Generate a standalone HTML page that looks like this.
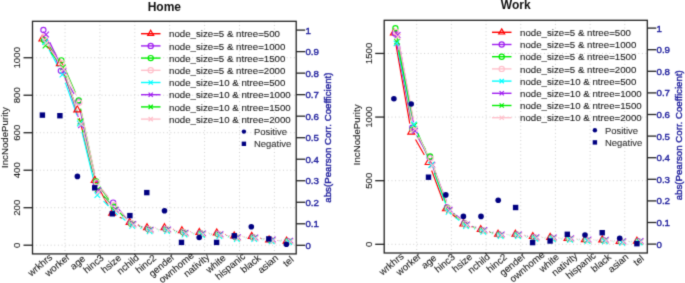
<!DOCTYPE html>
<html><head><meta charset="utf-8"><title>Home / Work</title>
<style>html,body{margin:0;padding:0;background:#fff;width:685px;height:283px;overflow:hidden}svg{display:block}</style>
</head><body>
<svg width="685" height="283" viewBox="0 0 685 283" font-family="Liberation Sans, sans-serif">
<style>.t{font-size:9.7px;fill:#1a1a1a;stroke:#1a1a1a;stroke-width:0.1px} .b{font-size:9.7px;fill:#22229e;stroke:#22229e;stroke-width:0.4px}</style>
<defs><filter id="bl" x="0" y="0" width="685" height="283" filterUnits="userSpaceOnUse" color-interpolation-filters="sRGB"><feConvolveMatrix order="3" kernelMatrix="0.03667 0.19150 0.03667 0.19150 1.00000 0.19150 0.03667 0.19150 0.03667" divisor="1.91266" edgeMode="duplicate" preserveAlpha="true"/></filter></defs>
<rect width="685" height="283" fill="#fff"/>
<g filter="url(#bl)">
<rect width="685" height="283" fill="#fff"/>
<line x1="65.0" y1="21.3" x2="65.0" y2="253.9" stroke="#cfcfcf" stroke-width="1" stroke-dasharray="1 2.63"/>
<line x1="99.9" y1="21.3" x2="99.9" y2="253.9" stroke="#cfcfcf" stroke-width="1" stroke-dasharray="1 2.63"/>
<line x1="134.8" y1="21.3" x2="134.8" y2="253.9" stroke="#cfcfcf" stroke-width="1" stroke-dasharray="1 2.63"/>
<line x1="169.7" y1="21.3" x2="169.7" y2="253.9" stroke="#cfcfcf" stroke-width="1" stroke-dasharray="1 2.63"/>
<line x1="204.6" y1="21.3" x2="204.6" y2="253.9" stroke="#cfcfcf" stroke-width="1" stroke-dasharray="1 2.63"/>
<line x1="239.5" y1="21.3" x2="239.5" y2="253.9" stroke="#cfcfcf" stroke-width="1" stroke-dasharray="1 2.63"/>
<line x1="274.4" y1="21.3" x2="274.4" y2="253.9" stroke="#cfcfcf" stroke-width="1" stroke-dasharray="1 2.63"/>
<line x1="32.5" y1="245.20" x2="296.2" y2="245.20" stroke="#cfcfcf" stroke-width="1" stroke-dasharray="1 2.63"/>
<line x1="32.5" y1="207.71" x2="296.2" y2="207.71" stroke="#cfcfcf" stroke-width="1" stroke-dasharray="1 2.63"/>
<line x1="32.5" y1="170.22" x2="296.2" y2="170.22" stroke="#cfcfcf" stroke-width="1" stroke-dasharray="1 2.63"/>
<line x1="32.5" y1="132.72" x2="296.2" y2="132.72" stroke="#cfcfcf" stroke-width="1" stroke-dasharray="1 2.63"/>
<line x1="32.5" y1="95.23" x2="296.2" y2="95.23" stroke="#cfcfcf" stroke-width="1" stroke-dasharray="1 2.63"/>
<line x1="32.5" y1="57.74" x2="296.2" y2="57.74" stroke="#cfcfcf" stroke-width="1" stroke-dasharray="1 2.63"/>
<path d="M47.35,46.02L54.89,56.71M62.88,71.78L74.24,101.81M79.35,118.20L92.65,171.99M98.76,187.93L108.12,205.55M119.77,217.15L121.99,218.32M137.81,224.89L138.83,225.21M155.64,227.77L155.88,227.77M172.96,229.22L173.44,229.31M190.48,231.59L190.80,231.62M207.96,232.73L208.20,232.74M225.28,234.47L225.76,234.56M242.84,236.20L243.08,236.20M260.11,238.11L260.69,238.23M277.70,240.50L277.98,240.52" stroke="#ff0000" stroke-width="1.15" fill="none"/>
<path d="M46.78,37.91L57.46,62.95M65.10,78.33L74.02,93.95M80.07,109.83L93.93,174.93M101.48,189.72L107.40,196.26M118.74,209.19L125.02,216.54M138.76,225.80L139.88,226.17M156.64,228.89L156.88,228.89M173.94,230.44L174.46,230.53M191.50,232.63L191.78,232.65M208.95,233.57L209.21,233.58M226.28,235.41L226.76,235.49M243.84,237.04L244.08,237.05M261.16,238.60L261.64,238.68M278.70,240.69L278.98,240.71" stroke="#a020f0" stroke-width="1.15" fill="none"/>
<path d="M49.51,46.63L55.73,53.85M64.78,68.25L75.34,92.41M80.59,108.70L94.41,173.06M101.10,188.54L108.78,199.69M119.87,212.72L124.89,217.51M139.28,226.09L140.36,226.44M157.14,229.08L157.38,229.08M174.44,230.62L174.96,230.72M192.00,232.82L192.28,232.84M209.45,233.76L209.71,233.77M226.79,235.51L227.25,235.58M244.34,237.14L244.58,237.14M261.67,238.70L262.13,238.77M279.20,240.69L279.48,240.71" stroke="#00ee00" stroke-width="1.15" fill="none"/>
<path d="M49.16,43.91L57.08,55.83M65.30,70.86L75.82,94.86M81.12,111.13L94.88,174.00M101.99,189.20L108.89,198.10M120.08,211.13L125.68,217.03M139.76,225.99L140.88,226.36M157.64,228.99L157.88,228.98M174.94,230.44L175.46,230.53M192.50,232.72L192.78,232.74M209.96,233.67L210.20,233.68M227.28,235.41L227.76,235.49M244.84,237.14L245.08,237.14M262.17,238.70L262.63,238.77M279.70,240.69L279.98,240.71" stroke="#ffc0cb" stroke-width="1.15" fill="none"/>
<path d="M49.07,49.72L58.37,67.00M65.33,82.67L76.99,115.40M81.91,131.86L95.29,186.76M103.50,201.09L108.58,206.00M121.49,217.34L125.47,220.50M140.41,228.41L141.43,228.73M158.24,231.20L158.48,231.20M175.52,232.74L176.08,232.84M193.12,234.75L193.36,234.76M210.55,235.50L210.81,235.52M227.88,237.43L228.36,237.52M245.44,238.98L245.68,238.98M262.81,240.08L263.19,240.13M280.31,241.69L280.57,241.70" stroke="#00ffff" stroke-width="1.15" fill="none"/>
<path d="M49.79,42.23L59.85,63.43M66.18,79.38L78.34,117.00M83.21,133.49L96.19,181.93M104.15,196.65L110.13,203.32M122.52,215.17L126.64,218.54M141.48,226.62L142.56,226.96M159.34,229.51L159.58,229.51M176.62,231.05L177.18,231.16M194.22,233.07L194.46,233.08M211.65,233.81L211.91,233.83M228.98,235.75L229.46,235.83M246.54,237.38L246.78,237.38M263.92,238.49L264.28,238.53M281.40,240.09L281.68,240.11" stroke="#a020f0" stroke-width="1.15" fill="none"/>
<path d="M50.85,52.29L57.59,60.76M65.58,75.67L77.74,113.29M82.52,129.81L95.68,181.01M103.43,195.85L109.65,203.07M121.85,215.11L126.11,218.68M140.86,226.92L141.98,227.30M158.74,229.92L158.98,229.92M176.02,231.46L176.58,231.57M193.61,233.57L193.87,233.58M211.05,234.41L211.31,234.43M228.39,236.26L228.85,236.33M245.94,237.79L246.18,237.80M263.31,238.99L263.69,239.04M280.81,240.60L281.07,240.61" stroke="#00ee00" stroke-width="1.15" fill="none"/>
<path d="M51.16,50.31L59.08,62.22M66.45,77.58L78.67,115.93M83.42,132.46L96.58,183.66M104.55,198.31L110.33,204.59M122.86,216.32L126.90,219.58M141.78,227.62L142.86,227.96M159.64,230.51L159.88,230.51M176.92,232.05L177.48,232.16M194.51,234.16L194.77,234.17M211.95,235.00L212.21,235.02M229.29,236.85L229.75,236.92M246.84,238.38L247.08,238.38M264.21,239.58L264.59,239.63M281.71,241.19L281.97,241.20" stroke="#ffc0cb" stroke-width="1.15" fill="none"/>
<polygon points="42.40,34.95 45.90,41.02 38.90,41.02" fill="none" stroke="#ff0000" stroke-width="1.1"/>
<polygon points="59.84,59.70 63.34,65.76 56.34,65.76" fill="none" stroke="#ff0000" stroke-width="1.1"/>
<polygon points="77.28,105.81 80.78,111.88 73.78,111.88" fill="none" stroke="#ff0000" stroke-width="1.1"/>
<polygon points="94.72,176.30 98.22,182.36 91.22,182.36" fill="none" stroke="#ff0000" stroke-width="1.1"/>
<polygon points="112.16,209.10 115.66,215.17 108.66,215.17" fill="none" stroke="#ff0000" stroke-width="1.1"/>
<polygon points="129.60,218.29 133.10,224.35 126.10,224.35" fill="none" stroke="#ff0000" stroke-width="1.1"/>
<polygon points="147.04,223.72 150.54,229.79 143.54,229.79" fill="none" stroke="#ff0000" stroke-width="1.1"/>
<polygon points="164.48,223.72 167.98,229.79 160.98,229.79" fill="none" stroke="#ff0000" stroke-width="1.1"/>
<polygon points="181.92,226.72 185.42,232.79 178.42,232.79" fill="none" stroke="#ff0000" stroke-width="1.1"/>
<polygon points="199.36,228.41 202.86,234.47 195.86,234.47" fill="none" stroke="#ff0000" stroke-width="1.1"/>
<polygon points="216.80,228.97 220.30,235.04 213.30,235.04" fill="none" stroke="#ff0000" stroke-width="1.1"/>
<polygon points="234.24,231.97 237.74,238.04 230.74,238.04" fill="none" stroke="#ff0000" stroke-width="1.1"/>
<polygon points="251.68,232.35 255.18,238.41 248.18,238.41" fill="none" stroke="#ff0000" stroke-width="1.1"/>
<polygon points="269.12,235.91 272.62,241.97 265.62,241.97" fill="none" stroke="#ff0000" stroke-width="1.1"/>
<polygon points="286.56,237.03 290.06,243.10 283.06,243.10" fill="none" stroke="#ff0000" stroke-width="1.1"/>
<circle cx="43.40" cy="30.00" r="2.60" fill="none" stroke="#a020f0" stroke-width="1.1"/>
<circle cx="60.84" cy="70.86" r="2.60" fill="none" stroke="#a020f0" stroke-width="1.1"/>
<circle cx="78.28" cy="101.42" r="2.60" fill="none" stroke="#a020f0" stroke-width="1.1"/>
<circle cx="95.72" cy="183.34" r="2.60" fill="none" stroke="#a020f0" stroke-width="1.1"/>
<circle cx="113.16" cy="202.65" r="2.60" fill="none" stroke="#a020f0" stroke-width="1.1"/>
<circle cx="130.60" cy="223.08" r="2.60" fill="none" stroke="#a020f0" stroke-width="1.1"/>
<circle cx="148.04" cy="228.89" r="2.60" fill="none" stroke="#a020f0" stroke-width="1.1"/>
<circle cx="165.48" cy="228.89" r="2.60" fill="none" stroke="#a020f0" stroke-width="1.1"/>
<circle cx="182.92" cy="232.08" r="2.60" fill="none" stroke="#a020f0" stroke-width="1.1"/>
<circle cx="200.36" cy="233.20" r="2.60" fill="none" stroke="#a020f0" stroke-width="1.1"/>
<circle cx="217.80" cy="233.95" r="2.60" fill="none" stroke="#a020f0" stroke-width="1.1"/>
<circle cx="235.24" cy="236.95" r="2.60" fill="none" stroke="#a020f0" stroke-width="1.1"/>
<circle cx="252.68" cy="237.14" r="2.60" fill="none" stroke="#a020f0" stroke-width="1.1"/>
<circle cx="270.12" cy="240.14" r="2.60" fill="none" stroke="#a020f0" stroke-width="1.1"/>
<circle cx="287.56" cy="241.26" r="2.60" fill="none" stroke="#a020f0" stroke-width="1.1"/>
<circle cx="43.90" cy="40.12" r="2.60" fill="none" stroke="#00ee00" stroke-width="1.1"/>
<circle cx="61.34" cy="60.36" r="2.60" fill="none" stroke="#00ee00" stroke-width="1.1"/>
<circle cx="78.78" cy="100.29" r="2.60" fill="none" stroke="#00ee00" stroke-width="1.1"/>
<circle cx="96.22" cy="181.46" r="2.60" fill="none" stroke="#00ee00" stroke-width="1.1"/>
<circle cx="113.66" cy="206.77" r="2.60" fill="none" stroke="#00ee00" stroke-width="1.1"/>
<circle cx="131.10" cy="223.45" r="2.60" fill="none" stroke="#00ee00" stroke-width="1.1"/>
<circle cx="148.54" cy="229.08" r="2.60" fill="none" stroke="#00ee00" stroke-width="1.1"/>
<circle cx="165.98" cy="229.08" r="2.60" fill="none" stroke="#00ee00" stroke-width="1.1"/>
<circle cx="183.42" cy="232.27" r="2.60" fill="none" stroke="#00ee00" stroke-width="1.1"/>
<circle cx="200.86" cy="233.39" r="2.60" fill="none" stroke="#00ee00" stroke-width="1.1"/>
<circle cx="218.30" cy="234.14" r="2.60" fill="none" stroke="#00ee00" stroke-width="1.1"/>
<circle cx="235.74" cy="236.95" r="2.60" fill="none" stroke="#00ee00" stroke-width="1.1"/>
<circle cx="253.18" cy="237.33" r="2.60" fill="none" stroke="#00ee00" stroke-width="1.1"/>
<circle cx="270.62" cy="240.14" r="2.60" fill="none" stroke="#00ee00" stroke-width="1.1"/>
<circle cx="288.06" cy="241.26" r="2.60" fill="none" stroke="#00ee00" stroke-width="1.1"/>
<circle cx="44.40" cy="36.74" r="2.60" fill="none" stroke="#ffc0cb" stroke-width="1.1"/>
<circle cx="61.84" cy="62.99" r="2.60" fill="none" stroke="#ffc0cb" stroke-width="1.1"/>
<circle cx="79.28" cy="102.73" r="2.60" fill="none" stroke="#ffc0cb" stroke-width="1.1"/>
<circle cx="96.72" cy="182.40" r="2.60" fill="none" stroke="#ffc0cb" stroke-width="1.1"/>
<circle cx="114.16" cy="204.90" r="2.60" fill="none" stroke="#ffc0cb" stroke-width="1.1"/>
<circle cx="131.60" cy="223.27" r="2.60" fill="none" stroke="#ffc0cb" stroke-width="1.1"/>
<circle cx="149.04" cy="229.08" r="2.60" fill="none" stroke="#ffc0cb" stroke-width="1.1"/>
<circle cx="166.48" cy="228.89" r="2.60" fill="none" stroke="#ffc0cb" stroke-width="1.1"/>
<circle cx="183.92" cy="232.08" r="2.60" fill="none" stroke="#ffc0cb" stroke-width="1.1"/>
<circle cx="201.36" cy="233.39" r="2.60" fill="none" stroke="#ffc0cb" stroke-width="1.1"/>
<circle cx="218.80" cy="233.95" r="2.60" fill="none" stroke="#ffc0cb" stroke-width="1.1"/>
<circle cx="236.24" cy="236.95" r="2.60" fill="none" stroke="#ffc0cb" stroke-width="1.1"/>
<circle cx="253.68" cy="237.33" r="2.60" fill="none" stroke="#ffc0cb" stroke-width="1.1"/>
<circle cx="271.12" cy="240.14" r="2.60" fill="none" stroke="#ffc0cb" stroke-width="1.1"/>
<circle cx="288.56" cy="241.26" r="2.60" fill="none" stroke="#ffc0cb" stroke-width="1.1"/>
<path d="M42.69,42.75L48.31,48.36M42.69,48.36L48.31,42.75" stroke="#00ee00" stroke-width="1.1" fill="none"/>
<path d="M60.13,64.68L65.75,70.30M60.13,70.30L65.75,64.68" stroke="#00ee00" stroke-width="1.1" fill="none"/>
<path d="M77.57,118.67L83.19,124.28M77.57,124.28L83.19,118.67" stroke="#00ee00" stroke-width="1.1" fill="none"/>
<path d="M95.01,186.53L100.63,192.14M95.01,192.14L100.63,186.53" stroke="#00ee00" stroke-width="1.1" fill="none"/>
<path d="M112.45,206.77L118.07,212.39M112.45,212.39L118.07,206.77" stroke="#00ee00" stroke-width="1.1" fill="none"/>
<path d="M129.89,221.40L135.51,227.01M129.89,227.01L135.51,221.40" stroke="#00ee00" stroke-width="1.1" fill="none"/>
<path d="M147.33,227.21L152.95,232.82M147.33,232.82L152.95,227.21" stroke="#00ee00" stroke-width="1.1" fill="none"/>
<path d="M164.77,227.02L170.39,232.64M164.77,232.64L170.39,227.02" stroke="#00ee00" stroke-width="1.1" fill="none"/>
<path d="M182.21,230.39L187.83,236.01M182.21,236.01L187.83,230.39" stroke="#00ee00" stroke-width="1.1" fill="none"/>
<path d="M199.65,231.14L205.27,236.76M199.65,236.76L205.27,231.14" stroke="#00ee00" stroke-width="1.1" fill="none"/>
<path d="M217.09,232.08L222.71,237.70M217.09,237.70L222.71,232.08" stroke="#00ee00" stroke-width="1.1" fill="none"/>
<path d="M234.53,234.89L240.15,240.51M234.53,240.51L240.15,234.89" stroke="#00ee00" stroke-width="1.1" fill="none"/>
<path d="M251.97,235.08L257.59,240.70M251.97,240.70L257.59,235.08" stroke="#00ee00" stroke-width="1.1" fill="none"/>
<path d="M269.41,237.33L275.03,242.95M269.41,242.95L275.03,237.33" stroke="#00ee00" stroke-width="1.1" fill="none"/>
<path d="M286.85,238.27L292.47,243.88M286.85,243.88L292.47,238.27" stroke="#00ee00" stroke-width="1.1" fill="none"/>
<path d="M43.29,31.65L48.91,37.27M43.29,37.27L48.91,31.65" stroke="#a020f0" stroke-width="1.1" fill="none"/>
<path d="M60.73,68.39L66.35,74.01M60.73,74.01L66.35,68.39" stroke="#a020f0" stroke-width="1.1" fill="none"/>
<path d="M78.17,122.38L83.79,128.00M78.17,128.00L83.79,122.38" stroke="#a020f0" stroke-width="1.1" fill="none"/>
<path d="M95.61,187.43L101.23,193.04M95.61,193.04L101.23,187.43" stroke="#a020f0" stroke-width="1.1" fill="none"/>
<path d="M113.05,206.92L118.67,212.54M113.05,212.54L118.67,206.92" stroke="#a020f0" stroke-width="1.1" fill="none"/>
<path d="M130.49,221.17L136.11,226.79M130.49,226.79L136.11,221.17" stroke="#a020f0" stroke-width="1.1" fill="none"/>
<path d="M147.93,226.80L153.55,232.41M147.93,232.41L153.55,226.80" stroke="#a020f0" stroke-width="1.1" fill="none"/>
<path d="M165.37,226.61L170.99,232.22M165.37,232.22L170.99,226.61" stroke="#a020f0" stroke-width="1.1" fill="none"/>
<path d="M182.81,229.98L188.43,235.60M182.81,235.60L188.43,229.98" stroke="#a020f0" stroke-width="1.1" fill="none"/>
<path d="M200.25,230.54L205.87,236.16M200.25,236.16L205.87,230.54" stroke="#a020f0" stroke-width="1.1" fill="none"/>
<path d="M217.69,231.48L223.31,237.10M217.69,237.10L223.31,231.48" stroke="#a020f0" stroke-width="1.1" fill="none"/>
<path d="M235.13,234.48L240.75,240.10M235.13,240.10L240.75,234.48" stroke="#a020f0" stroke-width="1.1" fill="none"/>
<path d="M252.57,234.67L258.19,240.28M252.57,240.28L258.19,234.67" stroke="#a020f0" stroke-width="1.1" fill="none"/>
<path d="M270.01,236.73L275.63,242.35M270.01,242.35L275.63,236.73" stroke="#a020f0" stroke-width="1.1" fill="none"/>
<path d="M287.45,237.86L293.07,243.47M287.45,243.47L293.07,237.86" stroke="#a020f0" stroke-width="1.1" fill="none"/>
<path d="M42.19,39.34L47.81,44.95M42.19,44.95L47.81,39.34" stroke="#00ffff" stroke-width="1.1" fill="none"/>
<path d="M59.63,71.77L65.25,77.38M59.63,77.38L65.25,71.77" stroke="#00ffff" stroke-width="1.1" fill="none"/>
<path d="M77.07,120.69L82.69,126.31M77.07,126.31L82.69,120.69" stroke="#00ffff" stroke-width="1.1" fill="none"/>
<path d="M94.51,192.30L100.13,197.92M94.51,197.92L100.13,192.30" stroke="#00ffff" stroke-width="1.1" fill="none"/>
<path d="M111.95,209.17L117.57,214.79M111.95,214.79L117.57,209.17" stroke="#00ffff" stroke-width="1.1" fill="none"/>
<path d="M129.39,223.05L135.01,228.66M129.39,228.66L135.01,223.05" stroke="#00ffff" stroke-width="1.1" fill="none"/>
<path d="M146.83,228.48L152.45,234.10M146.83,234.10L152.45,228.48" stroke="#00ffff" stroke-width="1.1" fill="none"/>
<path d="M164.27,228.30L169.89,233.91M164.27,233.91L169.89,228.30" stroke="#00ffff" stroke-width="1.1" fill="none"/>
<path d="M181.71,231.67L187.33,237.29M181.71,237.29L187.33,231.67" stroke="#00ffff" stroke-width="1.1" fill="none"/>
<path d="M199.15,232.23L204.77,237.85M199.15,237.85L204.77,232.23" stroke="#00ffff" stroke-width="1.1" fill="none"/>
<path d="M216.59,233.17L222.21,238.79M216.59,238.79L222.21,233.17" stroke="#00ffff" stroke-width="1.1" fill="none"/>
<path d="M234.03,236.17L239.65,241.78M234.03,241.78L239.65,236.17" stroke="#00ffff" stroke-width="1.1" fill="none"/>
<path d="M251.47,236.17L257.09,241.78M251.47,241.78L257.09,236.17" stroke="#00ffff" stroke-width="1.1" fill="none"/>
<path d="M268.91,238.42L274.53,244.03M268.91,244.03L274.53,238.42" stroke="#00ffff" stroke-width="1.1" fill="none"/>
<path d="M286.35,239.36L291.97,244.97M286.35,244.97L291.97,239.36" stroke="#00ffff" stroke-width="1.1" fill="none"/>
<path d="M43.59,40.34L49.21,45.95M43.59,45.95L49.21,40.34" stroke="#ffc0cb" stroke-width="1.1" fill="none"/>
<path d="M61.03,66.58L66.65,72.20M61.03,72.20L66.65,66.58" stroke="#ffc0cb" stroke-width="1.1" fill="none"/>
<path d="M78.47,121.32L84.09,126.93M78.47,126.93L84.09,121.32" stroke="#ffc0cb" stroke-width="1.1" fill="none"/>
<path d="M95.91,189.18L101.53,194.79M95.91,194.79L101.53,189.18" stroke="#ffc0cb" stroke-width="1.1" fill="none"/>
<path d="M113.35,208.11L118.97,213.73M113.35,213.73L118.97,208.11" stroke="#ffc0cb" stroke-width="1.1" fill="none"/>
<path d="M130.79,222.17L136.41,227.79M130.79,227.79L136.41,222.17" stroke="#ffc0cb" stroke-width="1.1" fill="none"/>
<path d="M148.23,227.80L153.85,233.41M148.23,233.41L153.85,227.80" stroke="#ffc0cb" stroke-width="1.1" fill="none"/>
<path d="M165.67,227.61L171.29,233.22M165.67,233.22L171.29,227.61" stroke="#ffc0cb" stroke-width="1.1" fill="none"/>
<path d="M183.11,230.98L188.73,236.60M183.11,236.60L188.73,230.98" stroke="#ffc0cb" stroke-width="1.1" fill="none"/>
<path d="M200.55,231.73L206.17,237.35M200.55,237.35L206.17,231.73" stroke="#ffc0cb" stroke-width="1.1" fill="none"/>
<path d="M217.99,232.67L223.61,238.29M217.99,238.29L223.61,232.67" stroke="#ffc0cb" stroke-width="1.1" fill="none"/>
<path d="M235.43,235.48L241.05,241.10M235.43,241.10L241.05,235.48" stroke="#ffc0cb" stroke-width="1.1" fill="none"/>
<path d="M252.87,235.67L258.49,241.28M252.87,241.28L258.49,235.67" stroke="#ffc0cb" stroke-width="1.1" fill="none"/>
<path d="M270.31,237.92L275.93,243.53M270.31,243.53L275.93,237.92" stroke="#ffc0cb" stroke-width="1.1" fill="none"/>
<path d="M287.75,238.86L293.37,244.47M287.75,244.47L293.37,238.86" stroke="#ffc0cb" stroke-width="1.1" fill="none"/>
<rect x="39.70" y="112.40" width="5.4" height="5.4" fill="#000080"/>
<rect x="57.20" y="113.00" width="5.4" height="5.4" fill="#000080"/>
<circle cx="77.40" cy="176.40" r="2.8" fill="#000080"/>
<rect x="92.00" y="185.10" width="5.4" height="5.4" fill="#000080"/>
<rect x="109.60" y="211.10" width="5.4" height="5.4" fill="#000080"/>
<rect x="127.20" y="212.90" width="5.4" height="5.4" fill="#000080"/>
<rect x="144.10" y="189.90" width="5.4" height="5.4" fill="#000080"/>
<circle cx="164.50" cy="210.70" r="2.8" fill="#000080"/>
<rect x="178.80" y="239.70" width="5.4" height="5.4" fill="#000080"/>
<circle cx="199.20" cy="237.50" r="2.8" fill="#000080"/>
<rect x="213.90" y="239.70" width="5.4" height="5.4" fill="#000080"/>
<rect x="231.60" y="233.10" width="5.4" height="5.4" fill="#000080"/>
<circle cx="251.30" cy="226.80" r="2.8" fill="#000080"/>
<rect x="266.10" y="236.20" width="5.4" height="5.4" fill="#000080"/>
<circle cx="286.40" cy="244.30" r="2.8" fill="#000080"/>
<rect x="32.5" y="21.3" width="263.70" height="232.60" fill="none" stroke="#222" stroke-width="1.3"/>
<line x1="23.5" y1="245.20" x2="32.5" y2="245.20" stroke="#222" stroke-width="1.3"/>
<text x="20.50" y="245.20" transform="rotate(-90 20.50 245.20)" text-anchor="middle" class="t">0</text>
<line x1="23.5" y1="207.71" x2="32.5" y2="207.71" stroke="#222" stroke-width="1.3"/>
<text x="20.50" y="207.71" transform="rotate(-90 20.50 207.71)" text-anchor="middle" class="t">200</text>
<line x1="23.5" y1="170.22" x2="32.5" y2="170.22" stroke="#222" stroke-width="1.3"/>
<text x="20.50" y="170.22" transform="rotate(-90 20.50 170.22)" text-anchor="middle" class="t">400</text>
<line x1="23.5" y1="132.72" x2="32.5" y2="132.72" stroke="#222" stroke-width="1.3"/>
<text x="20.50" y="132.72" transform="rotate(-90 20.50 132.72)" text-anchor="middle" class="t">600</text>
<line x1="23.5" y1="95.23" x2="32.5" y2="95.23" stroke="#222" stroke-width="1.3"/>
<text x="20.50" y="95.23" transform="rotate(-90 20.50 95.23)" text-anchor="middle" class="t">800</text>
<line x1="23.5" y1="57.74" x2="32.5" y2="57.74" stroke="#222" stroke-width="1.3"/>
<text x="20.50" y="57.74" transform="rotate(-90 20.50 57.74)" text-anchor="middle" class="t">1000</text>
<line x1="296.2" y1="245.30" x2="305.2" y2="245.30" stroke="#222" stroke-width="1.3"/>
<text x="305.40" y="248.80" class="b">0</text>
<line x1="296.2" y1="223.78" x2="305.2" y2="223.78" stroke="#222" stroke-width="1.3"/>
<text x="305.40" y="227.28" class="b">0.1</text>
<line x1="296.2" y1="202.26" x2="305.2" y2="202.26" stroke="#222" stroke-width="1.3"/>
<text x="305.40" y="205.76" class="b">0.2</text>
<line x1="296.2" y1="180.74" x2="305.2" y2="180.74" stroke="#222" stroke-width="1.3"/>
<text x="305.40" y="184.24" class="b">0.3</text>
<line x1="296.2" y1="159.22" x2="305.2" y2="159.22" stroke="#222" stroke-width="1.3"/>
<text x="305.40" y="162.72" class="b">0.4</text>
<line x1="296.2" y1="137.70" x2="305.2" y2="137.70" stroke="#222" stroke-width="1.3"/>
<text x="305.40" y="141.20" class="b">0.5</text>
<line x1="296.2" y1="116.18" x2="305.2" y2="116.18" stroke="#222" stroke-width="1.3"/>
<text x="305.40" y="119.68" class="b">0.6</text>
<line x1="296.2" y1="94.66" x2="305.2" y2="94.66" stroke="#222" stroke-width="1.3"/>
<text x="305.40" y="98.16" class="b">0.7</text>
<line x1="296.2" y1="73.14" x2="305.2" y2="73.14" stroke="#222" stroke-width="1.3"/>
<text x="305.40" y="76.64" class="b">0.8</text>
<line x1="296.2" y1="51.62" x2="305.2" y2="51.62" stroke="#222" stroke-width="1.3"/>
<text x="305.40" y="55.12" class="b">0.9</text>
<line x1="296.2" y1="30.10" x2="305.2" y2="30.10" stroke="#222" stroke-width="1.3"/>
<text x="305.40" y="33.60" class="b">1</text>
<text x="8.00" y="137.60" transform="rotate(-90 8.00 137.60)" text-anchor="middle" class="t">IncNodePurity</text>
<text x="331.00" y="137.60" transform="rotate(-90 331.00 137.60)" text-anchor="middle" class="b">abs(Pearson Corr. Coefficient)</text>
<text x="164.35" y="10.9" text-anchor="middle" font-size="12" font-weight="bold" fill="#111">Home</text>
<text x="52.99" y="258.30" transform="rotate(-40 52.99 258.30)" text-anchor="end" class="t">wrkhrs</text>
<text x="70.51" y="258.23" transform="rotate(-40 70.51 258.23)" text-anchor="end" class="t">worker</text>
<text x="86.01" y="259.86" transform="rotate(-40 86.01 259.86)" text-anchor="end" class="t">age</text>
<text x="104.50" y="258.98" transform="rotate(-40 104.50 258.98)" text-anchor="end" class="t">hinc3</text>
<text x="121.86" y="259.05" transform="rotate(-40 121.86 259.05)" text-anchor="end" class="t">hsize</text>
<text x="139.71" y="258.71" transform="rotate(-40 139.71 258.71)" text-anchor="end" class="t">nchild</text>
<text x="156.82" y="258.98" transform="rotate(-40 156.82 258.98)" text-anchor="end" class="t">hinc2</text>
<text x="175.32" y="258.09" transform="rotate(-40 175.32 258.09)" text-anchor="end" class="t">gender</text>
<text x="194.53" y="256.60" transform="rotate(-40 194.53 256.60)" text-anchor="end" class="t">ownhome</text>
<text x="210.19" y="258.10" transform="rotate(-40 210.19 258.10)" text-anchor="end" class="t">nativity</text>
<text x="226.50" y="259.05" transform="rotate(-40 226.50 259.05)" text-anchor="end" class="t">white</text>
<text x="245.88" y="257.42" transform="rotate(-40 245.88 257.42)" text-anchor="end" class="t">hispanic</text>
<text x="261.38" y="259.05" transform="rotate(-40 261.38 259.05)" text-anchor="end" class="t">black</text>
<text x="278.90" y="258.98" transform="rotate(-40 278.90 258.98)" text-anchor="end" class="t">asian</text>
<text x="294.40" y="260.61" transform="rotate(-40 294.40 260.61)" text-anchor="end" class="t">tel</text>
<line x1="141.00" y1="33.70" x2="160.50" y2="33.70" stroke="#ff0000" stroke-width="1.4"/>
<polygon points="150.70,30.26 153.68,35.42 147.72,35.42" fill="none" stroke="#ff0000" stroke-width="1.2"/>
<text x="169.00" y="37.30" class="t">node_size=5 &amp; ntree=500</text>
<line x1="141.00" y1="45.90" x2="160.50" y2="45.90" stroke="#a020f0" stroke-width="1.4"/>
<circle cx="150.70" cy="45.90" r="2.60" fill="none" stroke="#a020f0" stroke-width="1.2"/>
<text x="169.00" y="49.50" class="t">node_size=5 &amp; ntree=1000</text>
<line x1="141.00" y1="58.10" x2="160.50" y2="58.10" stroke="#00ee00" stroke-width="1.4"/>
<circle cx="150.70" cy="58.10" r="2.60" fill="none" stroke="#00ee00" stroke-width="1.2"/>
<text x="169.00" y="61.70" class="t">node_size=5 &amp; ntree=1500</text>
<line x1="141.00" y1="70.30" x2="160.50" y2="70.30" stroke="#ffc0cb" stroke-width="1.4"/>
<circle cx="150.70" cy="70.30" r="2.60" fill="none" stroke="#ffc0cb" stroke-width="1.2"/>
<text x="169.00" y="73.90" class="t">node_size=5 &amp; ntree=2000</text>
<line x1="141.00" y1="82.50" x2="160.50" y2="82.50" stroke="#00ffff" stroke-width="1.4"/>
<path d="M148.59,80.39L152.81,84.61M148.59,84.61L152.81,80.39" stroke="#00ffff" stroke-width="1.2" fill="none"/>
<text x="169.00" y="86.10" class="t">node_size=10 &amp; ntree=500</text>
<line x1="141.00" y1="94.70" x2="160.50" y2="94.70" stroke="#a020f0" stroke-width="1.4"/>
<path d="M148.59,92.59L152.81,96.81M148.59,96.81L152.81,92.59" stroke="#a020f0" stroke-width="1.2" fill="none"/>
<text x="169.00" y="98.30" class="t">node_size=10 &amp; ntree=1000</text>
<line x1="141.00" y1="106.90" x2="160.50" y2="106.90" stroke="#00ee00" stroke-width="1.4"/>
<path d="M148.59,104.79L152.81,109.01M148.59,109.01L152.81,104.79" stroke="#00ee00" stroke-width="1.2" fill="none"/>
<text x="169.00" y="110.50" class="t">node_size=10 &amp; ntree=1500</text>
<line x1="141.00" y1="119.10" x2="160.50" y2="119.10" stroke="#ffc0cb" stroke-width="1.4"/>
<path d="M148.59,116.99L152.81,121.21M148.59,121.21L152.81,116.99" stroke="#ffc0cb" stroke-width="1.2" fill="none"/>
<text x="169.00" y="122.70" class="t">node_size=10 &amp; ntree=2000</text>
<circle cx="243.90" cy="131.60" r="2.2" fill="#000080"/>
<text x="254.00" y="135.10" class="t" style="fill:#2e2e2e;stroke:#2e2e2e;font-size:9.45px">Positive</text>
<rect x="241.70" y="141.60" width="4.4" height="4.4" fill="#000080"/>
<text x="254.00" y="147.30" class="t" style="fill:#2e2e2e;stroke:#2e2e2e;font-size:9.45px">Negative</text>
<line x1="416.7" y1="20.3" x2="416.7" y2="253.0" stroke="#cfcfcf" stroke-width="1" stroke-dasharray="1 2.63"/>
<line x1="451.38" y1="20.3" x2="451.38" y2="253.0" stroke="#cfcfcf" stroke-width="1" stroke-dasharray="1 2.63"/>
<line x1="486.06" y1="20.3" x2="486.06" y2="253.0" stroke="#cfcfcf" stroke-width="1" stroke-dasharray="1 2.63"/>
<line x1="520.74" y1="20.3" x2="520.74" y2="253.0" stroke="#cfcfcf" stroke-width="1" stroke-dasharray="1 2.63"/>
<line x1="555.42" y1="20.3" x2="555.42" y2="253.0" stroke="#cfcfcf" stroke-width="1" stroke-dasharray="1 2.63"/>
<line x1="590.1" y1="20.3" x2="590.1" y2="253.0" stroke="#cfcfcf" stroke-width="1" stroke-dasharray="1 2.63"/>
<line x1="624.78" y1="20.3" x2="624.78" y2="253.0" stroke="#cfcfcf" stroke-width="1" stroke-dasharray="1 2.63"/>
<line x1="384.2" y1="244.30" x2="647.3" y2="244.30" stroke="#cfcfcf" stroke-width="1" stroke-dasharray="1 2.63"/>
<line x1="384.2" y1="180.69" x2="647.3" y2="180.69" stroke="#cfcfcf" stroke-width="1" stroke-dasharray="1 2.63"/>
<line x1="384.2" y1="117.07" x2="647.3" y2="117.07" stroke="#cfcfcf" stroke-width="1" stroke-dasharray="1 2.63"/>
<line x1="384.2" y1="53.45" x2="647.3" y2="53.45" stroke="#cfcfcf" stroke-width="1" stroke-dasharray="1 2.63"/>
<path d="M395.38,41.44L409.78,123.61M415.52,139.55L424.36,155.02M431.64,170.54L442.96,200.75M452.46,214.46L456.86,218.29M471.52,226.58L472.52,226.90M489.00,231.79L489.76,232.00M506.66,234.25L506.82,234.25M523.95,235.37L524.25,235.41M541.37,236.98L541.55,236.99M558.73,237.87L558.91,237.88M576.08,238.95L576.28,238.96M593.46,239.72L593.62,239.72M610.78,240.66L611.02,240.69M628.18,241.37L628.34,241.37" stroke="#ff0000" stroke-width="1.15" fill="none"/>
<path d="M396.46,41.94L410.70,119.30M416.61,135.18L425.27,149.98M432.44,165.53L444.16,199.28M453.34,213.19L457.98,217.40M472.34,226.34L473.70,226.89M490.02,232.24L490.74,232.44M507.66,234.63L507.82,234.63M524.93,235.88L525.27,235.93M542.37,237.49L542.55,237.50M559.73,238.19L559.91,238.20M577.08,239.20L577.28,239.22M594.46,239.97L594.62,239.98M611.79,240.85L612.01,240.87M629.18,241.57L629.34,241.56" stroke="#a020f0" stroke-width="1.15" fill="none"/>
<path d="M396.86,36.74L411.30,120.68M417.37,136.42L425.51,149.25M432.87,164.66L444.73,199.89M453.89,213.77L458.43,217.83M472.88,226.62L474.16,227.11M490.52,232.37L491.24,232.56M508.16,234.76L508.32,234.76M525.43,236.00L525.77,236.06M542.88,237.55L543.04,237.56M560.23,238.25L560.41,238.26M577.58,239.33L577.78,239.35M594.96,240.10L595.12,240.10M612.29,240.98L612.51,241.00M629.68,241.63L629.84,241.63" stroke="#00ee00" stroke-width="1.15" fill="none"/>
<path d="M397.40,40.29L411.76,121.32M417.72,137.15L426.16,151.07M433.45,166.54L445.15,200.17M454.41,214.00L458.91,217.98M473.41,226.65L474.63,227.09M491.02,232.24L491.74,232.44M508.66,234.63L508.82,234.63M525.93,235.88L526.27,235.93M543.37,237.49L543.55,237.50M560.73,238.19L560.91,238.20M578.08,239.20L578.28,239.22M595.46,239.97L595.62,239.98M612.79,240.85L613.01,240.87M630.18,241.57L630.34,241.56" stroke="#ffc0cb" stroke-width="1.15" fill="none"/>
<path d="M398.30,51.82L412.06,115.92M417.23,132.24L427.85,157.13M434.21,173.11L445.59,203.80M455.23,217.32L459.29,220.66M474.12,228.75L475.12,229.07M491.64,233.79L492.32,233.96M509.26,236.04L509.42,236.04M526.51,237.41L526.89,237.47M543.98,238.96L544.14,238.97M561.33,239.47L561.51,239.48M578.68,240.42L578.88,240.44M596.06,241.19L596.22,241.19M613.39,242.07L613.61,242.09M630.78,242.72L630.94,242.72" stroke="#00ffff" stroke-width="1.15" fill="none"/>
<path d="M399.13,43.50L413.43,122.38M418.87,138.50L428.41,157.16M435.43,172.84L446.57,201.58M456.23,215.17L460.49,218.79M475.22,227.00L476.22,227.32M492.73,232.10L493.43,232.28M510.36,234.41L510.52,234.41M527.61,235.78L527.99,235.84M545.08,237.34L545.24,237.34M562.43,237.84L562.61,237.85M579.78,238.86L579.98,238.87M597.16,239.63L597.32,239.63M614.49,240.51L614.71,240.53M631.88,241.16L632.04,241.15" stroke="#a020f0" stroke-width="1.15" fill="none"/>
<path d="M398.75,50.04L412.61,116.92M417.82,133.21L428.26,156.91M434.77,172.82L446.03,202.54M455.68,216.10L459.84,219.57M474.62,227.73L475.62,228.05M492.13,232.82L492.83,233.00M509.76,235.14L509.92,235.14M527.01,236.51L527.39,236.57M544.48,238.06L544.64,238.07M561.83,238.57L562.01,238.58M579.18,239.58L579.38,239.60M596.56,240.35L596.72,240.36M613.89,241.24L614.11,241.26M631.28,241.88L631.44,241.88" stroke="#00ee00" stroke-width="1.15" fill="none"/>
<path d="M399.49,45.26L413.67,120.47M418.94,136.69L428.94,157.79M435.70,173.59L446.90,202.83M456.58,216.37L460.74,219.85M475.52,228.00L476.52,228.32M493.03,233.10L493.73,233.28M510.66,235.41L510.82,235.41M527.91,236.78L528.29,236.84M545.38,238.34L545.54,238.34M562.73,238.84L562.91,238.85M580.08,239.86L580.28,239.87M597.46,240.63L597.62,240.63M614.79,241.51L615.01,241.53M632.18,242.16L632.34,242.15" stroke="#ffc0cb" stroke-width="1.15" fill="none"/>
<polygon points="393.90,28.93 397.40,34.99 390.40,34.99" fill="none" stroke="#ff0000" stroke-width="1.1"/>
<polygon points="411.26,128.04 414.76,134.10 407.76,134.10" fill="none" stroke="#ff0000" stroke-width="1.1"/>
<polygon points="428.62,158.45 432.12,164.51 425.12,164.51" fill="none" stroke="#ff0000" stroke-width="1.1"/>
<polygon points="445.98,204.76 449.48,210.82 442.48,210.82" fill="none" stroke="#ff0000" stroke-width="1.1"/>
<polygon points="463.34,219.90 466.84,225.96 459.84,225.96" fill="none" stroke="#ff0000" stroke-width="1.1"/>
<polygon points="480.70,225.50 484.20,231.56 477.20,231.56" fill="none" stroke="#ff0000" stroke-width="1.1"/>
<polygon points="498.06,230.21 501.56,236.27 494.56,236.27" fill="none" stroke="#ff0000" stroke-width="1.1"/>
<polygon points="515.42,230.21 518.92,236.27 511.92,236.27" fill="none" stroke="#ff0000" stroke-width="1.1"/>
<polygon points="532.78,232.50 536.28,238.56 529.28,238.56" fill="none" stroke="#ff0000" stroke-width="1.1"/>
<polygon points="550.14,233.39 553.64,239.45 546.64,239.45" fill="none" stroke="#ff0000" stroke-width="1.1"/>
<polygon points="567.50,234.28 571.00,240.34 564.00,240.34" fill="none" stroke="#ff0000" stroke-width="1.1"/>
<polygon points="584.86,235.55 588.36,241.61 581.36,241.61" fill="none" stroke="#ff0000" stroke-width="1.1"/>
<polygon points="602.22,235.80 605.72,241.87 598.72,241.87" fill="none" stroke="#ff0000" stroke-width="1.1"/>
<polygon points="619.58,237.46 623.08,243.52 616.08,243.52" fill="none" stroke="#ff0000" stroke-width="1.1"/>
<polygon points="636.94,237.20 640.44,243.27 633.44,243.27" fill="none" stroke="#ff0000" stroke-width="1.1"/>
<circle cx="394.90" cy="33.48" r="2.60" fill="none" stroke="#a020f0" stroke-width="1.1"/>
<circle cx="412.26" cy="127.76" r="2.60" fill="none" stroke="#a020f0" stroke-width="1.1"/>
<circle cx="429.62" cy="157.40" r="2.60" fill="none" stroke="#a020f0" stroke-width="1.1"/>
<circle cx="446.98" cy="207.40" r="2.60" fill="none" stroke="#a020f0" stroke-width="1.1"/>
<circle cx="464.34" cy="223.18" r="2.60" fill="none" stroke="#a020f0" stroke-width="1.1"/>
<circle cx="481.70" cy="230.05" r="2.60" fill="none" stroke="#a020f0" stroke-width="1.1"/>
<circle cx="499.06" cy="234.63" r="2.60" fill="none" stroke="#a020f0" stroke-width="1.1"/>
<circle cx="516.42" cy="234.63" r="2.60" fill="none" stroke="#a020f0" stroke-width="1.1"/>
<circle cx="533.78" cy="237.18" r="2.60" fill="none" stroke="#a020f0" stroke-width="1.1"/>
<circle cx="551.14" cy="237.81" r="2.60" fill="none" stroke="#a020f0" stroke-width="1.1"/>
<circle cx="568.50" cy="238.57" r="2.60" fill="none" stroke="#a020f0" stroke-width="1.1"/>
<circle cx="585.86" cy="239.85" r="2.60" fill="none" stroke="#a020f0" stroke-width="1.1"/>
<circle cx="603.22" cy="240.10" r="2.60" fill="none" stroke="#a020f0" stroke-width="1.1"/>
<circle cx="620.58" cy="241.63" r="2.60" fill="none" stroke="#a020f0" stroke-width="1.1"/>
<circle cx="637.94" cy="241.50" r="2.60" fill="none" stroke="#a020f0" stroke-width="1.1"/>
<circle cx="395.40" cy="28.26" r="2.60" fill="none" stroke="#00ee00" stroke-width="1.1"/>
<circle cx="412.76" cy="129.16" r="2.60" fill="none" stroke="#00ee00" stroke-width="1.1"/>
<circle cx="430.12" cy="156.51" r="2.60" fill="none" stroke="#00ee00" stroke-width="1.1"/>
<circle cx="447.48" cy="208.04" r="2.60" fill="none" stroke="#00ee00" stroke-width="1.1"/>
<circle cx="464.84" cy="223.56" r="2.60" fill="none" stroke="#00ee00" stroke-width="1.1"/>
<circle cx="482.20" cy="230.18" r="2.60" fill="none" stroke="#00ee00" stroke-width="1.1"/>
<circle cx="499.56" cy="234.76" r="2.60" fill="none" stroke="#00ee00" stroke-width="1.1"/>
<circle cx="516.92" cy="234.76" r="2.60" fill="none" stroke="#00ee00" stroke-width="1.1"/>
<circle cx="534.28" cy="237.30" r="2.60" fill="none" stroke="#00ee00" stroke-width="1.1"/>
<circle cx="551.64" cy="237.81" r="2.60" fill="none" stroke="#00ee00" stroke-width="1.1"/>
<circle cx="569.00" cy="238.70" r="2.60" fill="none" stroke="#00ee00" stroke-width="1.1"/>
<circle cx="586.36" cy="239.97" r="2.60" fill="none" stroke="#00ee00" stroke-width="1.1"/>
<circle cx="603.72" cy="240.23" r="2.60" fill="none" stroke="#00ee00" stroke-width="1.1"/>
<circle cx="621.08" cy="241.76" r="2.60" fill="none" stroke="#00ee00" stroke-width="1.1"/>
<circle cx="638.44" cy="241.50" r="2.60" fill="none" stroke="#00ee00" stroke-width="1.1"/>
<circle cx="395.90" cy="31.83" r="2.60" fill="none" stroke="#ffc0cb" stroke-width="1.1"/>
<circle cx="413.26" cy="129.79" r="2.60" fill="none" stroke="#ffc0cb" stroke-width="1.1"/>
<circle cx="430.62" cy="158.42" r="2.60" fill="none" stroke="#ffc0cb" stroke-width="1.1"/>
<circle cx="447.98" cy="208.29" r="2.60" fill="none" stroke="#ffc0cb" stroke-width="1.1"/>
<circle cx="465.34" cy="223.69" r="2.60" fill="none" stroke="#ffc0cb" stroke-width="1.1"/>
<circle cx="482.70" cy="230.05" r="2.60" fill="none" stroke="#ffc0cb" stroke-width="1.1"/>
<circle cx="500.06" cy="234.63" r="2.60" fill="none" stroke="#ffc0cb" stroke-width="1.1"/>
<circle cx="517.42" cy="234.63" r="2.60" fill="none" stroke="#ffc0cb" stroke-width="1.1"/>
<circle cx="534.78" cy="237.18" r="2.60" fill="none" stroke="#ffc0cb" stroke-width="1.1"/>
<circle cx="552.14" cy="237.81" r="2.60" fill="none" stroke="#ffc0cb" stroke-width="1.1"/>
<circle cx="569.50" cy="238.57" r="2.60" fill="none" stroke="#ffc0cb" stroke-width="1.1"/>
<circle cx="586.86" cy="239.85" r="2.60" fill="none" stroke="#ffc0cb" stroke-width="1.1"/>
<circle cx="604.22" cy="240.10" r="2.60" fill="none" stroke="#ffc0cb" stroke-width="1.1"/>
<circle cx="621.58" cy="241.63" r="2.60" fill="none" stroke="#ffc0cb" stroke-width="1.1"/>
<circle cx="638.94" cy="241.50" r="2.60" fill="none" stroke="#ffc0cb" stroke-width="1.1"/>
<path d="M394.19,38.81L399.81,44.43M394.19,44.43L399.81,38.81" stroke="#00ee00" stroke-width="1.1" fill="none"/>
<path d="M411.55,122.53L417.17,128.15M411.55,128.15L417.17,122.53" stroke="#00ee00" stroke-width="1.1" fill="none"/>
<path d="M428.91,161.97L434.53,167.59M428.91,167.59L434.53,161.97" stroke="#00ee00" stroke-width="1.1" fill="none"/>
<path d="M446.27,207.78L451.89,213.39M446.27,213.39L451.89,207.78" stroke="#00ee00" stroke-width="1.1" fill="none"/>
<path d="M463.63,222.28L469.25,227.90M463.63,227.90L469.25,222.28" stroke="#00ee00" stroke-width="1.1" fill="none"/>
<path d="M480.99,227.88L486.61,233.49M480.99,233.49L486.61,227.88" stroke="#00ee00" stroke-width="1.1" fill="none"/>
<path d="M498.35,232.33L503.97,237.95M498.35,237.95L503.97,232.33" stroke="#00ee00" stroke-width="1.1" fill="none"/>
<path d="M515.71,232.33L521.33,237.95M515.71,237.95L521.33,232.33" stroke="#00ee00" stroke-width="1.1" fill="none"/>
<path d="M533.07,235.13L538.69,240.75M533.07,240.75L538.69,235.13" stroke="#00ee00" stroke-width="1.1" fill="none"/>
<path d="M550.43,235.38L556.05,241.00M550.43,241.00L556.05,235.38" stroke="#00ee00" stroke-width="1.1" fill="none"/>
<path d="M567.79,236.15L573.41,241.76M567.79,241.76L573.41,236.15" stroke="#00ee00" stroke-width="1.1" fill="none"/>
<path d="M585.15,237.42L590.77,243.04M585.15,243.04L590.77,237.42" stroke="#00ee00" stroke-width="1.1" fill="none"/>
<path d="M602.51,237.68L608.13,243.29M602.51,243.29L608.13,237.68" stroke="#00ee00" stroke-width="1.1" fill="none"/>
<path d="M619.87,239.20L625.49,244.82M619.87,244.82L625.49,239.20" stroke="#00ee00" stroke-width="1.1" fill="none"/>
<path d="M637.23,238.95L642.85,244.56M637.23,244.56L642.85,238.95" stroke="#00ee00" stroke-width="1.1" fill="none"/>
<path d="M394.79,32.23L400.41,37.85M394.79,37.85L400.41,32.23" stroke="#a020f0" stroke-width="1.1" fill="none"/>
<path d="M412.15,128.04L417.77,133.65M412.15,133.65L417.77,128.04" stroke="#a020f0" stroke-width="1.1" fill="none"/>
<path d="M429.51,162.01L435.13,167.63M429.51,167.63L435.13,162.01" stroke="#a020f0" stroke-width="1.1" fill="none"/>
<path d="M446.87,206.79L452.49,212.41M446.87,212.41L452.49,206.79" stroke="#a020f0" stroke-width="1.1" fill="none"/>
<path d="M464.23,221.55L469.85,227.17M464.23,227.17L469.85,221.55" stroke="#a020f0" stroke-width="1.1" fill="none"/>
<path d="M481.59,227.15L487.21,232.77M481.59,232.77L487.21,227.15" stroke="#a020f0" stroke-width="1.1" fill="none"/>
<path d="M498.95,231.60L504.57,237.22M498.95,237.22L504.57,231.60" stroke="#a020f0" stroke-width="1.1" fill="none"/>
<path d="M516.31,231.60L521.93,237.22M516.31,237.22L521.93,231.60" stroke="#a020f0" stroke-width="1.1" fill="none"/>
<path d="M533.67,234.40L539.29,240.02M533.67,240.02L539.29,234.40" stroke="#a020f0" stroke-width="1.1" fill="none"/>
<path d="M551.03,234.66L556.65,240.27M551.03,240.27L556.65,234.66" stroke="#a020f0" stroke-width="1.1" fill="none"/>
<path d="M568.39,235.42L574.01,241.04M568.39,241.04L574.01,235.42" stroke="#a020f0" stroke-width="1.1" fill="none"/>
<path d="M585.75,236.69L591.37,242.31M585.75,242.31L591.37,236.69" stroke="#a020f0" stroke-width="1.1" fill="none"/>
<path d="M603.11,236.95L608.73,242.56M603.11,242.56L608.73,236.95" stroke="#a020f0" stroke-width="1.1" fill="none"/>
<path d="M620.47,238.47L626.09,244.09M620.47,244.09L626.09,238.47" stroke="#a020f0" stroke-width="1.1" fill="none"/>
<path d="M637.83,238.22L643.45,243.84M637.83,243.84L643.45,238.22" stroke="#a020f0" stroke-width="1.1" fill="none"/>
<path d="M393.69,40.61L399.31,46.22M393.69,46.22L399.31,40.61" stroke="#00ffff" stroke-width="1.1" fill="none"/>
<path d="M411.05,121.52L416.67,127.14M411.05,127.14L416.67,121.52" stroke="#00ffff" stroke-width="1.1" fill="none"/>
<path d="M428.41,162.24L434.03,167.85M428.41,167.85L434.03,162.24" stroke="#00ffff" stroke-width="1.1" fill="none"/>
<path d="M445.77,209.06L451.39,214.67M445.77,214.67L451.39,209.06" stroke="#00ffff" stroke-width="1.1" fill="none"/>
<path d="M463.13,223.31L468.75,228.92M463.13,228.92L468.75,223.31" stroke="#00ffff" stroke-width="1.1" fill="none"/>
<path d="M480.49,228.91L486.11,234.52M480.49,234.52L486.11,228.91" stroke="#00ffff" stroke-width="1.1" fill="none"/>
<path d="M497.85,233.23L503.47,238.85M497.85,238.85L503.47,233.23" stroke="#00ffff" stroke-width="1.1" fill="none"/>
<path d="M515.21,233.23L520.83,238.85M515.21,238.85L520.83,233.23" stroke="#00ffff" stroke-width="1.1" fill="none"/>
<path d="M532.57,236.03L538.19,241.65M532.57,241.65L538.19,236.03" stroke="#00ffff" stroke-width="1.1" fill="none"/>
<path d="M549.93,236.28L555.55,241.90M549.93,241.90L555.55,236.28" stroke="#00ffff" stroke-width="1.1" fill="none"/>
<path d="M567.29,237.05L572.91,242.66M567.29,242.66L572.91,237.05" stroke="#00ffff" stroke-width="1.1" fill="none"/>
<path d="M584.65,238.19L590.27,243.81M584.65,243.81L590.27,238.19" stroke="#00ffff" stroke-width="1.1" fill="none"/>
<path d="M602.01,238.58L607.63,244.19M602.01,244.19L607.63,238.58" stroke="#00ffff" stroke-width="1.1" fill="none"/>
<path d="M619.37,239.97L624.99,245.59M619.37,245.59L624.99,239.97" stroke="#00ffff" stroke-width="1.1" fill="none"/>
<path d="M636.73,239.85L642.35,245.46M636.73,245.46L642.35,239.85" stroke="#00ffff" stroke-width="1.1" fill="none"/>
<path d="M395.09,34.00L400.71,39.61M395.09,39.61L400.71,34.00" stroke="#ffc0cb" stroke-width="1.1" fill="none"/>
<path d="M412.45,126.11L418.07,131.73M412.45,131.73L418.07,126.11" stroke="#ffc0cb" stroke-width="1.1" fill="none"/>
<path d="M429.81,162.75L435.43,168.37M429.81,168.37L435.43,162.75" stroke="#ffc0cb" stroke-width="1.1" fill="none"/>
<path d="M447.17,208.05L452.79,213.66M447.17,213.66L452.79,208.05" stroke="#ffc0cb" stroke-width="1.1" fill="none"/>
<path d="M464.53,222.55L470.15,228.17M464.53,228.17L470.15,222.55" stroke="#ffc0cb" stroke-width="1.1" fill="none"/>
<path d="M481.89,228.15L487.51,233.77M481.89,233.77L487.51,228.15" stroke="#ffc0cb" stroke-width="1.1" fill="none"/>
<path d="M499.25,232.60L504.87,238.22M499.25,238.22L504.87,232.60" stroke="#ffc0cb" stroke-width="1.1" fill="none"/>
<path d="M516.61,232.60L522.23,238.22M516.61,238.22L522.23,232.60" stroke="#ffc0cb" stroke-width="1.1" fill="none"/>
<path d="M533.97,235.40L539.59,241.02M533.97,241.02L539.59,235.40" stroke="#ffc0cb" stroke-width="1.1" fill="none"/>
<path d="M551.33,235.66L556.95,241.27M551.33,241.27L556.95,235.66" stroke="#ffc0cb" stroke-width="1.1" fill="none"/>
<path d="M568.69,236.42L574.31,242.04M568.69,242.04L574.31,236.42" stroke="#ffc0cb" stroke-width="1.1" fill="none"/>
<path d="M586.05,237.69L591.67,243.31M586.05,243.31L591.67,237.69" stroke="#ffc0cb" stroke-width="1.1" fill="none"/>
<path d="M603.41,237.95L609.03,243.56M603.41,243.56L609.03,237.95" stroke="#ffc0cb" stroke-width="1.1" fill="none"/>
<path d="M620.77,239.47L626.39,245.09M620.77,245.09L626.39,239.47" stroke="#ffc0cb" stroke-width="1.1" fill="none"/>
<path d="M638.13,239.22L643.75,244.84M638.13,244.84L643.75,239.22" stroke="#ffc0cb" stroke-width="1.1" fill="none"/>
<circle cx="393.90" cy="98.70" r="2.8" fill="#000080"/>
<circle cx="411.20" cy="104.00" r="2.8" fill="#000080"/>
<rect x="425.80" y="174.50" width="5.4" height="5.4" fill="#000080"/>
<circle cx="445.80" cy="194.90" r="2.8" fill="#000080"/>
<circle cx="463.40" cy="216.40" r="2.8" fill="#000080"/>
<circle cx="481.00" cy="216.40" r="2.8" fill="#000080"/>
<circle cx="498.20" cy="200.20" r="2.8" fill="#000080"/>
<rect x="512.90" y="204.80" width="5.4" height="5.4" fill="#000080"/>
<rect x="529.90" y="239.90" width="5.4" height="5.4" fill="#000080"/>
<rect x="547.40" y="238.30" width="5.4" height="5.4" fill="#000080"/>
<rect x="564.60" y="231.60" width="5.4" height="5.4" fill="#000080"/>
<circle cx="585.00" cy="235.00" r="2.8" fill="#000080"/>
<rect x="599.50" y="230.00" width="5.4" height="5.4" fill="#000080"/>
<circle cx="619.70" cy="238.30" r="2.8" fill="#000080"/>
<rect x="634.20" y="241.00" width="5.4" height="5.4" fill="#000080"/>
<rect x="384.2" y="20.3" width="263.10" height="232.70" fill="none" stroke="#222" stroke-width="1.3"/>
<line x1="375.2" y1="244.30" x2="384.2" y2="244.30" stroke="#222" stroke-width="1.3"/>
<text x="372.20" y="244.30" transform="rotate(-90 372.20 244.30)" text-anchor="middle" class="t">0</text>
<line x1="375.2" y1="180.69" x2="384.2" y2="180.69" stroke="#222" stroke-width="1.3"/>
<text x="372.20" y="180.69" transform="rotate(-90 372.20 180.69)" text-anchor="middle" class="t">500</text>
<line x1="375.2" y1="117.07" x2="384.2" y2="117.07" stroke="#222" stroke-width="1.3"/>
<text x="372.20" y="117.07" transform="rotate(-90 372.20 117.07)" text-anchor="middle" class="t">1000</text>
<line x1="375.2" y1="53.45" x2="384.2" y2="53.45" stroke="#222" stroke-width="1.3"/>
<text x="372.20" y="53.45" transform="rotate(-90 372.20 53.45)" text-anchor="middle" class="t">1500</text>
<line x1="647.3" y1="244.10" x2="656.3" y2="244.10" stroke="#222" stroke-width="1.3"/>
<text x="656.50" y="247.60" class="b">0</text>
<line x1="647.3" y1="222.50" x2="656.3" y2="222.50" stroke="#222" stroke-width="1.3"/>
<text x="656.50" y="226.00" class="b">0.1</text>
<line x1="647.3" y1="200.90" x2="656.3" y2="200.90" stroke="#222" stroke-width="1.3"/>
<text x="656.50" y="204.40" class="b">0.2</text>
<line x1="647.3" y1="179.30" x2="656.3" y2="179.30" stroke="#222" stroke-width="1.3"/>
<text x="656.50" y="182.80" class="b">0.3</text>
<line x1="647.3" y1="157.70" x2="656.3" y2="157.70" stroke="#222" stroke-width="1.3"/>
<text x="656.50" y="161.20" class="b">0.4</text>
<line x1="647.3" y1="136.10" x2="656.3" y2="136.10" stroke="#222" stroke-width="1.3"/>
<text x="656.50" y="139.60" class="b">0.5</text>
<line x1="647.3" y1="114.50" x2="656.3" y2="114.50" stroke="#222" stroke-width="1.3"/>
<text x="656.50" y="118.00" class="b">0.6</text>
<line x1="647.3" y1="92.90" x2="656.3" y2="92.90" stroke="#222" stroke-width="1.3"/>
<text x="656.50" y="96.40" class="b">0.7</text>
<line x1="647.3" y1="71.30" x2="656.3" y2="71.30" stroke="#222" stroke-width="1.3"/>
<text x="656.50" y="74.80" class="b">0.8</text>
<line x1="647.3" y1="49.70" x2="656.3" y2="49.70" stroke="#222" stroke-width="1.3"/>
<text x="656.50" y="53.20" class="b">0.9</text>
<line x1="647.3" y1="28.10" x2="656.3" y2="28.10" stroke="#222" stroke-width="1.3"/>
<text x="656.50" y="31.60" class="b">1</text>
<text x="359.70" y="134.85" transform="rotate(-90 359.70 134.85)" text-anchor="middle" class="t">IncNodePurity</text>
<text x="682.20" y="135.25" transform="rotate(-90 682.20 135.25)" text-anchor="middle" class="b">abs(Pearson Corr. Coefficient)</text>
<text x="515.75" y="9.4" text-anchor="middle" font-size="12" font-weight="bold" fill="#111">Work</text>
<text x="404.39" y="257.40" transform="rotate(-40 404.39 257.40)" text-anchor="end" class="t">wrkhrs</text>
<text x="421.83" y="257.33" transform="rotate(-40 421.83 257.33)" text-anchor="end" class="t">worker</text>
<text x="437.25" y="258.96" transform="rotate(-40 437.25 258.96)" text-anchor="end" class="t">age</text>
<text x="455.66" y="258.08" transform="rotate(-40 455.66 258.08)" text-anchor="end" class="t">hinc3</text>
<text x="472.94" y="258.15" transform="rotate(-40 472.94 258.15)" text-anchor="end" class="t">hsize</text>
<text x="490.71" y="257.81" transform="rotate(-40 490.71 257.81)" text-anchor="end" class="t">nchild</text>
<text x="507.74" y="258.08" transform="rotate(-40 507.74 258.08)" text-anchor="end" class="t">hinc2</text>
<text x="526.16" y="257.19" transform="rotate(-40 526.16 257.19)" text-anchor="end" class="t">gender</text>
<text x="545.29" y="255.70" transform="rotate(-40 545.29 255.70)" text-anchor="end" class="t">ownhome</text>
<text x="559.74" y="258.15" transform="rotate(-40 559.74 258.15)" text-anchor="end" class="t">white</text>
<text x="578.23" y="257.20" transform="rotate(-40 578.23 257.20)" text-anchor="end" class="t">nativity</text>
<text x="596.40" y="256.52" transform="rotate(-40 596.40 256.52)" text-anchor="end" class="t">hispanic</text>
<text x="611.82" y="258.15" transform="rotate(-40 611.82 258.15)" text-anchor="end" class="t">black</text>
<text x="629.26" y="258.08" transform="rotate(-40 629.26 258.08)" text-anchor="end" class="t">asian</text>
<text x="644.68" y="259.71" transform="rotate(-40 644.68 259.71)" text-anchor="end" class="t">tel</text>
<line x1="492.00" y1="32.30" x2="511.50" y2="32.30" stroke="#ff0000" stroke-width="1.4"/>
<polygon points="501.70,28.86 504.68,34.02 498.72,34.02" fill="none" stroke="#ff0000" stroke-width="1.2"/>
<text x="520.00" y="35.90" class="t">node_size=5 &amp; ntree=500</text>
<line x1="492.00" y1="44.50" x2="511.50" y2="44.50" stroke="#a020f0" stroke-width="1.4"/>
<circle cx="501.70" cy="44.50" r="2.60" fill="none" stroke="#a020f0" stroke-width="1.2"/>
<text x="520.00" y="48.10" class="t">node_size=5 &amp; ntree=1000</text>
<line x1="492.00" y1="56.70" x2="511.50" y2="56.70" stroke="#00ee00" stroke-width="1.4"/>
<circle cx="501.70" cy="56.70" r="2.60" fill="none" stroke="#00ee00" stroke-width="1.2"/>
<text x="520.00" y="60.30" class="t">node_size=5 &amp; ntree=1500</text>
<line x1="492.00" y1="68.90" x2="511.50" y2="68.90" stroke="#ffc0cb" stroke-width="1.4"/>
<circle cx="501.70" cy="68.90" r="2.60" fill="none" stroke="#ffc0cb" stroke-width="1.2"/>
<text x="520.00" y="72.50" class="t">node_size=5 &amp; ntree=2000</text>
<line x1="492.00" y1="81.10" x2="511.50" y2="81.10" stroke="#00ffff" stroke-width="1.4"/>
<path d="M499.59,78.99L503.81,83.21M499.59,83.21L503.81,78.99" stroke="#00ffff" stroke-width="1.2" fill="none"/>
<text x="520.00" y="84.70" class="t">node_size=10 &amp; ntree=500</text>
<line x1="492.00" y1="93.30" x2="511.50" y2="93.30" stroke="#a020f0" stroke-width="1.4"/>
<path d="M499.59,91.19L503.81,95.41M499.59,95.41L503.81,91.19" stroke="#a020f0" stroke-width="1.2" fill="none"/>
<text x="520.00" y="96.90" class="t">node_size=10 &amp; ntree=1000</text>
<line x1="492.00" y1="105.50" x2="511.50" y2="105.50" stroke="#00ee00" stroke-width="1.4"/>
<path d="M499.59,103.39L503.81,107.61M499.59,107.61L503.81,103.39" stroke="#00ee00" stroke-width="1.2" fill="none"/>
<text x="520.00" y="109.10" class="t">node_size=10 &amp; ntree=1500</text>
<line x1="492.00" y1="117.70" x2="511.50" y2="117.70" stroke="#ffc0cb" stroke-width="1.4"/>
<path d="M499.59,115.59L503.81,119.81M499.59,119.81L503.81,115.59" stroke="#ffc0cb" stroke-width="1.2" fill="none"/>
<text x="520.00" y="121.30" class="t">node_size=10 &amp; ntree=2000</text>
<circle cx="594.90" cy="130.20" r="2.2" fill="#000080"/>
<text x="605.00" y="133.70" class="t" style="fill:#2e2e2e;stroke:#2e2e2e;font-size:9.45px">Positive</text>
<rect x="592.70" y="140.20" width="4.4" height="4.4" fill="#000080"/>
<text x="605.00" y="145.90" class="t" style="fill:#2e2e2e;stroke:#2e2e2e;font-size:9.45px">Negative</text>
</g>
</svg>
</body></html>
